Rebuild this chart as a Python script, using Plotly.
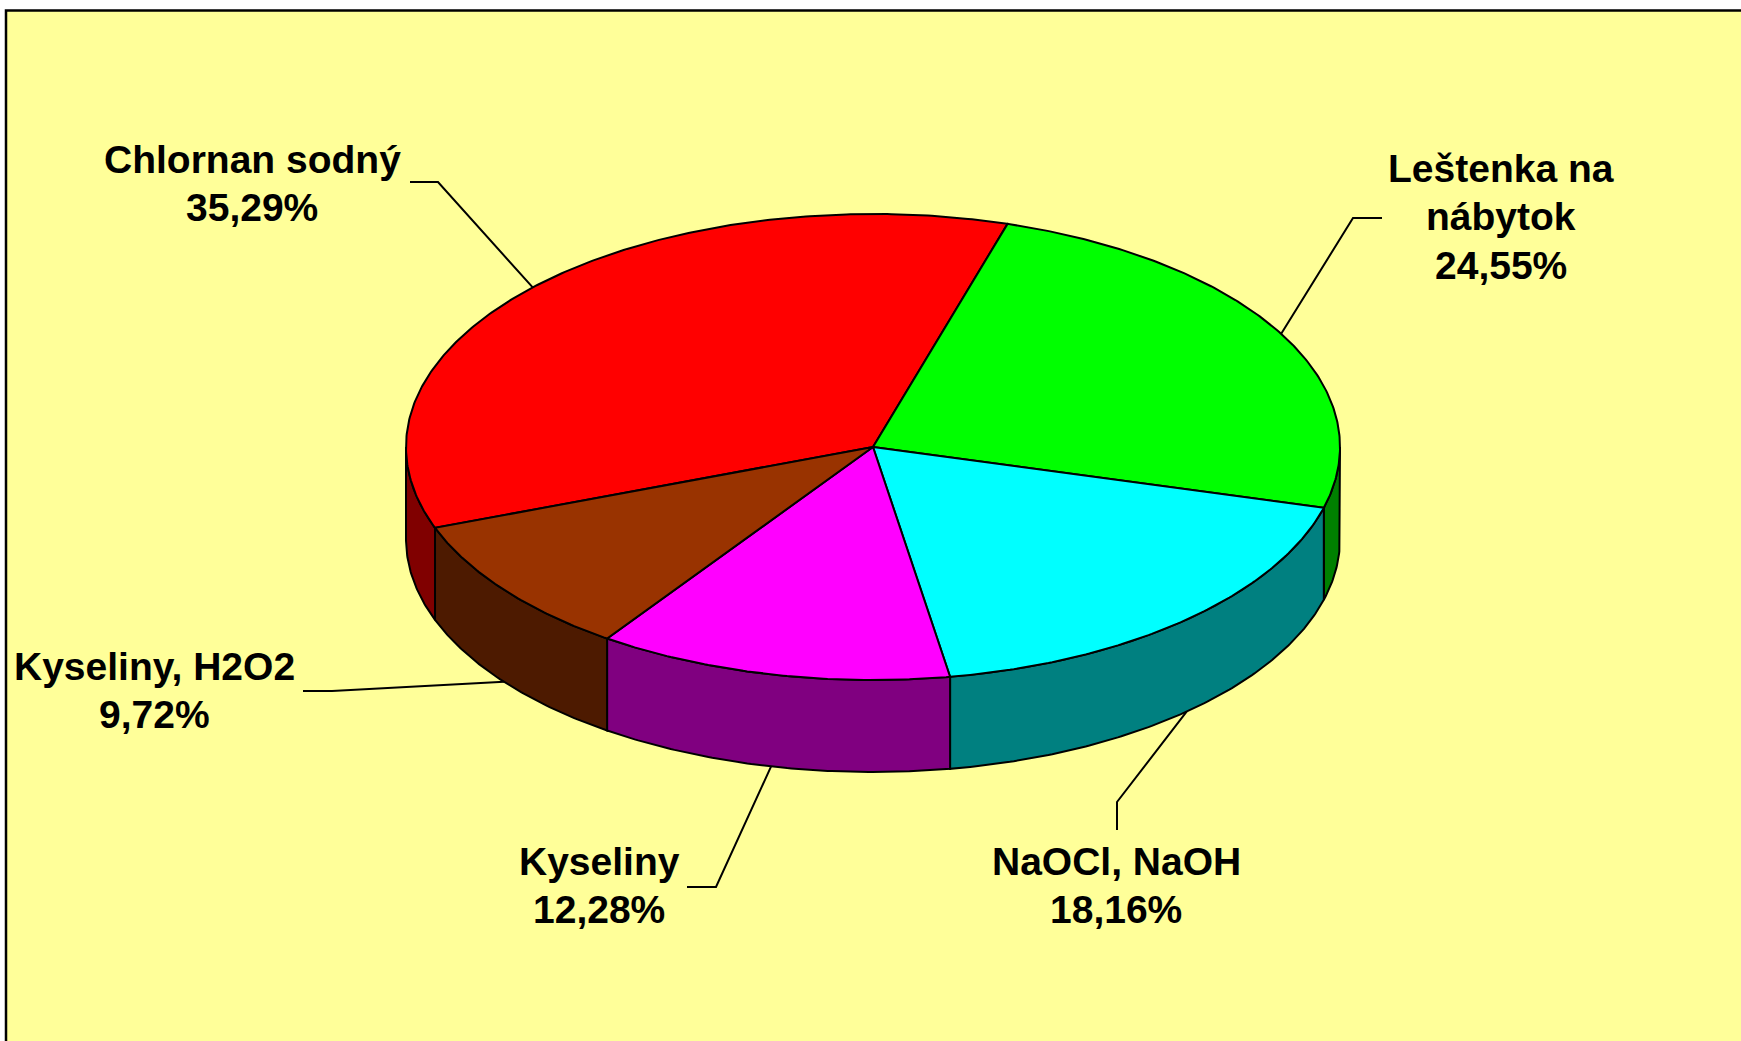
import numpy as np
import plotly.graph_objects as go

# ---------------- data ----------------
labels = ["Chlornan sodný", "Leštenka na nábytok", "NaOCl, NaOH", "Kyseliny", "Kyseliny, H2O2"]
label_lines = [["Chlornan sodný"], ["Leštenka na", "nábytok"], ["NaOCl, NaOH"], ["Kyseliny"], ["Kyseliny, H2O2"]]
values = [35.29, 24.55, 18.16, 12.28, 9.72]

# ---------------- styles ----------------
top_colors = ["#FF0000", "#00FF00", "#00FFFF", "#FF00FF", "#993300"]
side_colors = ["#800000", "#008000", "#008080", "#800080", "#4D1A00"]
BG = "#FFFF99"

# pie geometry (page pixels)
CX, CY, RX, RY, DEPTH = 873, 447, 467, 233, 92
START_DEG = 200.3
FONT_SIZE = 39
LINE_GAP = 48.5
W, H = 1741, 1041

# label placement: text centre x, first baseline y, leader start, leader elbow
label_layout = [
    dict(x=252, y=173, start=(410, 182), elbow=(438, 182)),
    dict(x=1501, y=182, start=(1382, 218), elbow=(1353, 218)),
    dict(x=1116, y=875, start=(1117, 830), elbow=(1117, 802)),
    dict(x=599, y=875, start=(687, 887), elbow=(716, 887)),
    dict(x=154, y=680, start=(303, 691), elbow=(332, 691)),
]


def ell(t_deg, dy=0.0):
    t = np.radians(t_deg)
    return CX + RX * np.cos(t), CY - RY * np.sin(t) + dy


def arc(a0, a1, n_per_deg=2):
    n = max(2, int(abs(a1 - a0) * n_per_deg) + 1)
    return np.linspace(a0, a1, n)


total = sum(values)
spans = []
a = START_DEG
for v in values:
    s = v / total * 360.0
    spans.append((a - s, a))
    a -= s

fig = go.Figure()

# side walls (front half only)
for (lo, hi), col in zip(spans, side_colors):
    for k in range(-2, 2):
        f0, f1 = 180 + 360 * k, 360 + 360 * k
        a0, a1 = max(lo, f0), min(hi, f1)
        if a1 - a0 <= 0.01:
            continue
        ts = arc(a0, a1)
        xt, yt = ell(ts)
        xb, yb = ell(ts[::-1], DEPTH)
        xs = np.concatenate([xt, xb, xt[:1]])
        ys = np.concatenate([yt, yb, yt[:1]])
        fig.add_trace(go.Scatter(x=xs, y=ys, mode="lines", fill="toself",
                                 fillcolor=col, line=dict(color="black", width=2),
                                 hoverinfo="skip", showlegend=False))

# top faces
for (lo, hi), col, name, v in zip(spans, top_colors, labels, values):
    ts = arc(hi, lo)
    xa, ya = ell(ts)
    xs = np.concatenate([[CX], xa, [CX]])
    ys = np.concatenate([[CY], ya, [CY]])
    fig.add_trace(go.Scatter(x=xs, y=ys, mode="lines", fill="toself",
                             fillcolor=col, line=dict(color="black", width=2),
                             name=name, text=f"{name}: {v:.2f}%", hoverinfo="text",
                             showlegend=False))

# leader lines and labels
for (lo, hi), lines, v, lay in zip(spans, label_lines, values, label_layout):
    mid = (lo + hi) / 2
    if np.sin(np.radians(mid)) < 0:
        ax, ay = ell(mid, DEPTH)
    else:
        ax, ay = ell(mid)
    sx, sy = lay["start"]
    ex, ey = lay["elbow"]
    fig.add_trace(go.Scatter(x=[sx, ex, ax], y=[sy, ey, ay], mode="lines",
                             line=dict(color="black", width=2),
                             hoverinfo="skip", showlegend=False))
    all_lines = lines + [f"{v:.2f}".replace(".", ",") + "%"]
    for i, txt in enumerate(all_lines):
        base = lay["y"] + i * LINE_GAP
        fig.add_annotation(x=lay["x"], y=base - 0.35 * FONT_SIZE, text=txt,
                           showarrow=False, xanchor="center", yanchor="middle",
                           font=dict(family="Arial, Liberation Sans, sans-serif",
                                     size=FONT_SIZE, color="black", weight="bold"))

fig.add_shape(type="rect", xref="x", yref="y", x0=6, y0=10.5, x1=1900, y1=1200,
              fillcolor=BG, line=dict(color="black", width=2.5), layer="below")

fig.update_layout(
    width=W, height=H,
    margin=dict(l=0, r=0, t=0, b=0),
    paper_bgcolor="white", plot_bgcolor="white",
    xaxis=dict(range=[0, W], visible=False, fixedrange=True),
    yaxis=dict(range=[H, 0], visible=False, fixedrange=True),
)

fig.write_html("out.html",
               config={"displayModeBar": False},
               post_script="document.body.style.margin='0px';"
                           "document.body.style.overflow='hidden';")
